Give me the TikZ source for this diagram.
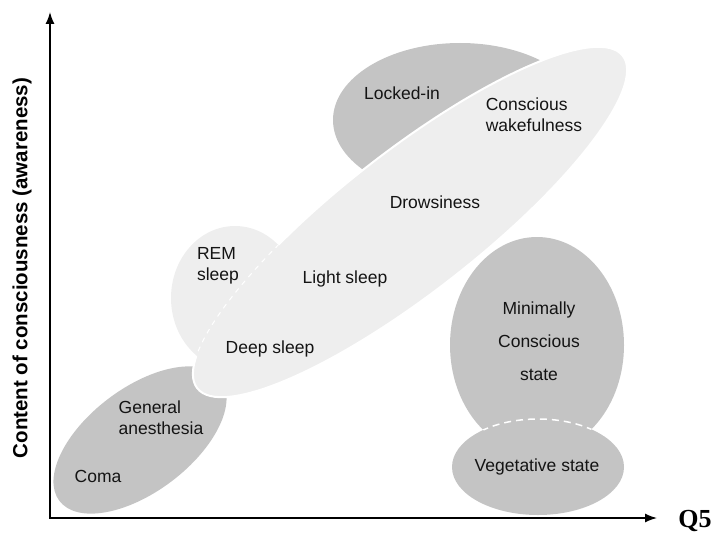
\documentclass[tikz,border=0pt]{standalone}
\usepackage{fontspec}
\setmainfont{Liberation Sans}
\newfontfamily\qfont{Liberation Serif}
\usetikzlibrary{positioning, arrows.meta}
\definecolor{darkzone}{gray}{0.77}
\definecolor{lightzone}{gray}{0.935}
\tikzstyle{darkstate}=[fill=darkzone]
\tikzstyle{lightstate}=[fill=lightzone, draw=white, line width=2pt]
\tikzstyle{boundary}=[draw=white, line width=1.5pt, dash pattern=on 7pt off 5pt]
\tikzstyle{remboundary}=[draw=white, line width=1pt, dash pattern=on 5pt off 5pt]
\tikzstyle{statetext}=[text=black!92, font=\fontsize{17.5}{21}\selectfont, inner sep=0pt]
\tikzstyle{axis}=[{Latex[length=12pt, width=9pt]}-{Latex[length=12pt, width=9pt]}, line width=1.4pt]
\newcommand{\bigzone}{[rotate around={38:(410,222)}] (410,222) ellipse [x radius=270, y radius=70]}
\newcommand{\remzone}{(235,298) ellipse [x radius=64, y radius=72]}
\newcommand{\mcszone}{(537,345) ellipse [x radius=87, y radius=108]}

\begin{document}
\begin{tikzpicture}[x=1pt, y=-1pt]
    \useasboundingbox (0,0) rectangle (714,535);
    % gray states
    \fill[darkzone] (460,120) ellipse [x radius=127, y radius=77];
    \fill[darkzone, rotate around={37:(140,440)}] (140,440) ellipse [x radius=101, y radius=52];
    \fill[darkzone] \mcszone;
    \fill[darkzone] (538,467) ellipse [x radius=86, y radius=48];
    \begin{scope}
      \clip \mcszone;
      \draw[boundary] (538,467) ellipse [x radius=86, y radius=48];
    \end{scope}
    % sleep and wakefulness
    \path[lightstate] \bigzone;
    \fill[lightzone] \remzone;
    \begin{scope}
      \clip \remzone;
      \path[remboundary] \bigzone;
    \end{scope}
    \node[statetext] (lockedin) at (402,93) {Locked-in};
    \node[statetext, align=left] (wake) at (534,115) {Conscious\\wakefulness};
    \node[statetext] (drowsy) at (435,202) {Drowsiness};
    \node[statetext, align=left] (rem) at (218,266) {REM\\sleep};
    \node[statetext] (lightsleep) at (345,279) {Light sleep};
    \node[statetext] (deepsleep) at (270,349) {Deep sleep};
    \node[statetext, align=left] (anest) at (161,418) {General\\anesthesia};
    \node[statetext] (coma) at (98,476) {Coma};
    \node[statetext, align=center, font=\fontsize{17.5}{33}\selectfont] (mcs) at (539,341) {Minimally\\Conscious\\state};
    \node[statetext] (veg) at (537,467) {Vegetative state};
    % axes
    \coordinate (origin) at (50,518);
    \coordinate (ytop) at (50,12);
    \coordinate (xend) at (657,518);
    \draw[axis] (ytop) -- (origin) -- (xend);
    \node[font=\bfseries\fontsize{20.5}{24}\selectfont, rotate=90] (ylabel) at (22,268) {Content of consciousness (awareness)};
    \node[font=\qfont\bfseries\fontsize{26}{30}\selectfont] (qfive) at (695,521) {Q5};
\end{tikzpicture}
\end{document}
